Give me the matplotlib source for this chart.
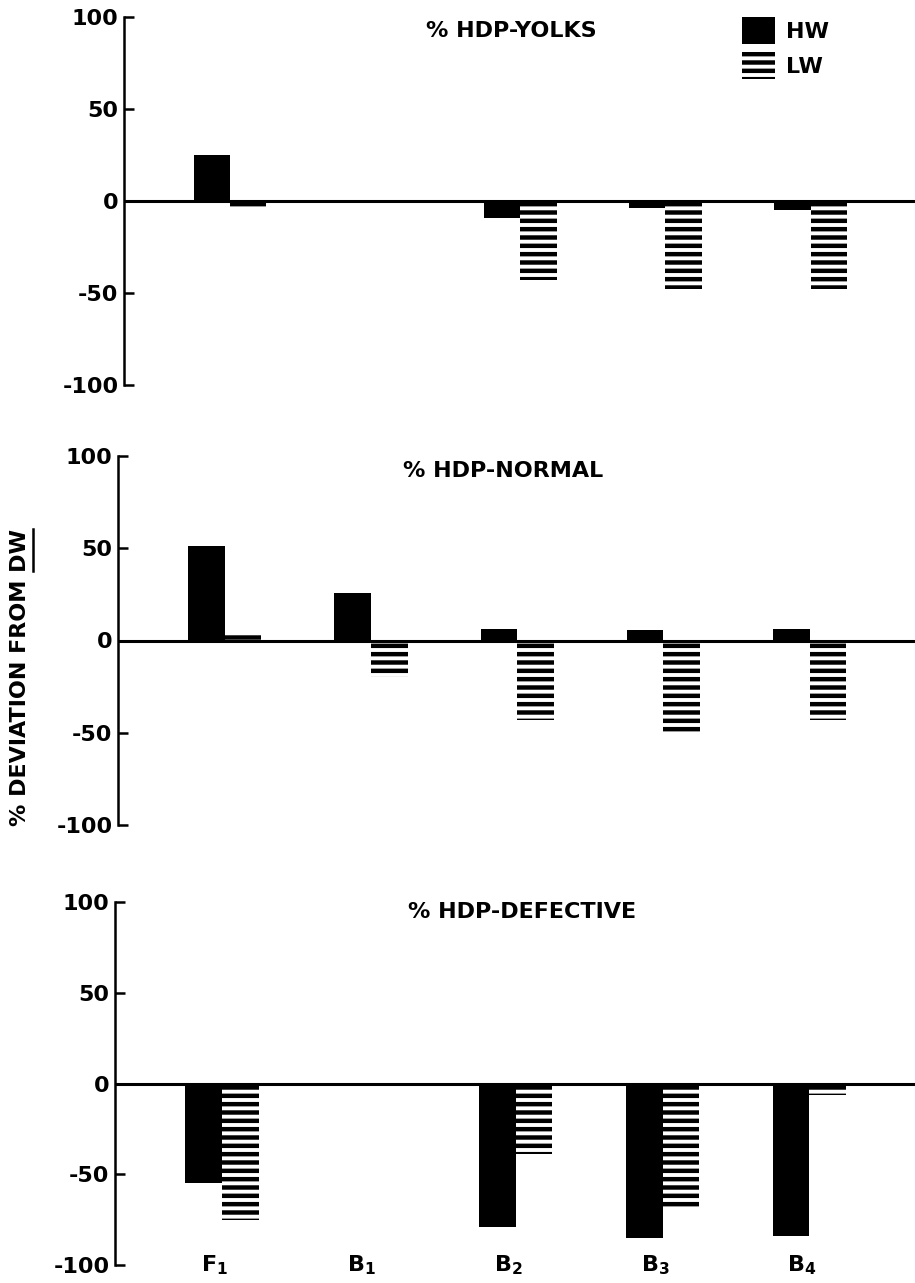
import numpy as np
import matplotlib
matplotlib.use('Agg')
import matplotlib.pyplot as plt
from matplotlib.patches import Patch
from matplotlib.lines import Line2D

plt.rcParams['font.family'] = ['DejaVu Sans']
plt.rcParams['font.weight'] = 'bold'
plt.rcParams['mathtext.fontset'] = 'dejavusans'
plt.rcParams['mathtext.default'] = 'bf'
plt.rcParams['hatch.linewidth'] = 3.2

# data (% deviation from DW)
categories = ['F$_1$', 'B$_1$', 'B$_2$', 'B$_3$', 'B$_4$']
titles = ['% HDP-YOLKS', '% HDP-NORMAL', '% HDP-DEFECTIVE']
yolks_hw = [25, 0, -9, -4, -5]
yolks_lw = [-3, 0, -43, -48, -48]
normal_hw = [51, 26, 6.5, 5.5, 6]
normal_lw = [3, -20, -43, -51, -43]
defective_hw = [-55, 0, -79, -85, -84]
defective_lw = [-75, 0, -39, -68, -6.5]
yticks = [-100, -50, 0, 50, 100]

W, H = 915, 1283
fig = plt.figure(figsize=(W / 100, H / 100), dpi=100)

# panel rectangles in pixels: left, top, bottom (right edge = figure edge)
rects = [(124, 17, 385), (118, 456, 825), (115, 902, 1265)]
title_pos = [(511, 31), (503, 471), (522, 912)]
hw_all = [yolks_hw, normal_hw, defective_hw]
lw_all = [yolks_lw, normal_lw, defective_lw]

x = np.arange(len(categories))
bw = 0.25
fs = 16

for k in range(3):
    left, top, bot = rects[k]
    ax = fig.add_axes([left / W, 1 - bot / H, (W - left) / W, (bot - top) / H])
    ax.bar(x - bw / 2, hw_all[k], bw, color='black', linewidth=0)
    ax.bar(x + bw / 2, lw_all[k], bw, color='white', edgecolor='black',
           hatch='--', linewidth=0)
    ax.axhline(0, color='black', lw=2.2, zorder=3)
    ax.set_ylim(-100, 100)
    ax.set_xlim(-0.73, 4.72)
    ax.set_yticks(yticks)
    ax.set_yticklabels([str(t) for t in yticks], fontsize=fs, fontweight='bold')
    ax.tick_params(axis='y', direction='in', length=7, width=1.8, pad=4)
    ax.set_xticks([])
    for s in ['top', 'right', 'bottom']:
        ax.spines[s].set_visible(False)
    ax.spines['left'].set_linewidth(1.8)
    tx, ty = title_pos[k]
    fig.text(tx / W, 1 - ty / H, titles[k], ha='center', va='center',
             fontsize=fs, fontweight='bold')
    if k == 0:
        handles = [Patch(facecolor='black', edgecolor='black', linewidth=0),
                   Patch(facecolor='white', edgecolor='black', hatch='--', linewidth=0)]
        ax.legend(handles, ['HW', 'LW'], loc='upper left',
                  bbox_to_anchor=((742 - left) / (W - left), 1.0),
                  frameon=False, fontsize=fs, handlelength=1.5, handleheight=1.5,
                  labelspacing=0.35, handletextpad=0.5, borderpad=0,
                  borderaxespad=0)
    if k == 2:
        for i, c in enumerate(categories):
            ax.text(i - 0.05, -100, c, ha='center', va='center',
                    fontsize=fs, fontweight='bold')

ylab = fig.text(20 / W, 1 - 677 / H, '% DEVIATION FROM DW',
                rotation=90, ha='center', va='center', fontsize=fs, fontweight='bold')

# underline "DW" (drawn as a line beside the rotated text)
fig.canvas.draw()
r = fig.canvas.get_renderer()
bb = ylab.get_window_extent(r)
tmp = fig.text(0, 0, 'DW', fontsize=fs, fontweight='bold')
dw_len = tmp.get_window_extent(r).width
tmp.remove()
xl = (bb.x1 + 3) / W
fig.add_artist(Line2D([xl, xl], [(bb.y1 - dw_len) / H, bb.y1 / H],
                      transform=fig.transFigure, color='black', lw=1.8))

plt.savefig('out.png', dpi=100)
